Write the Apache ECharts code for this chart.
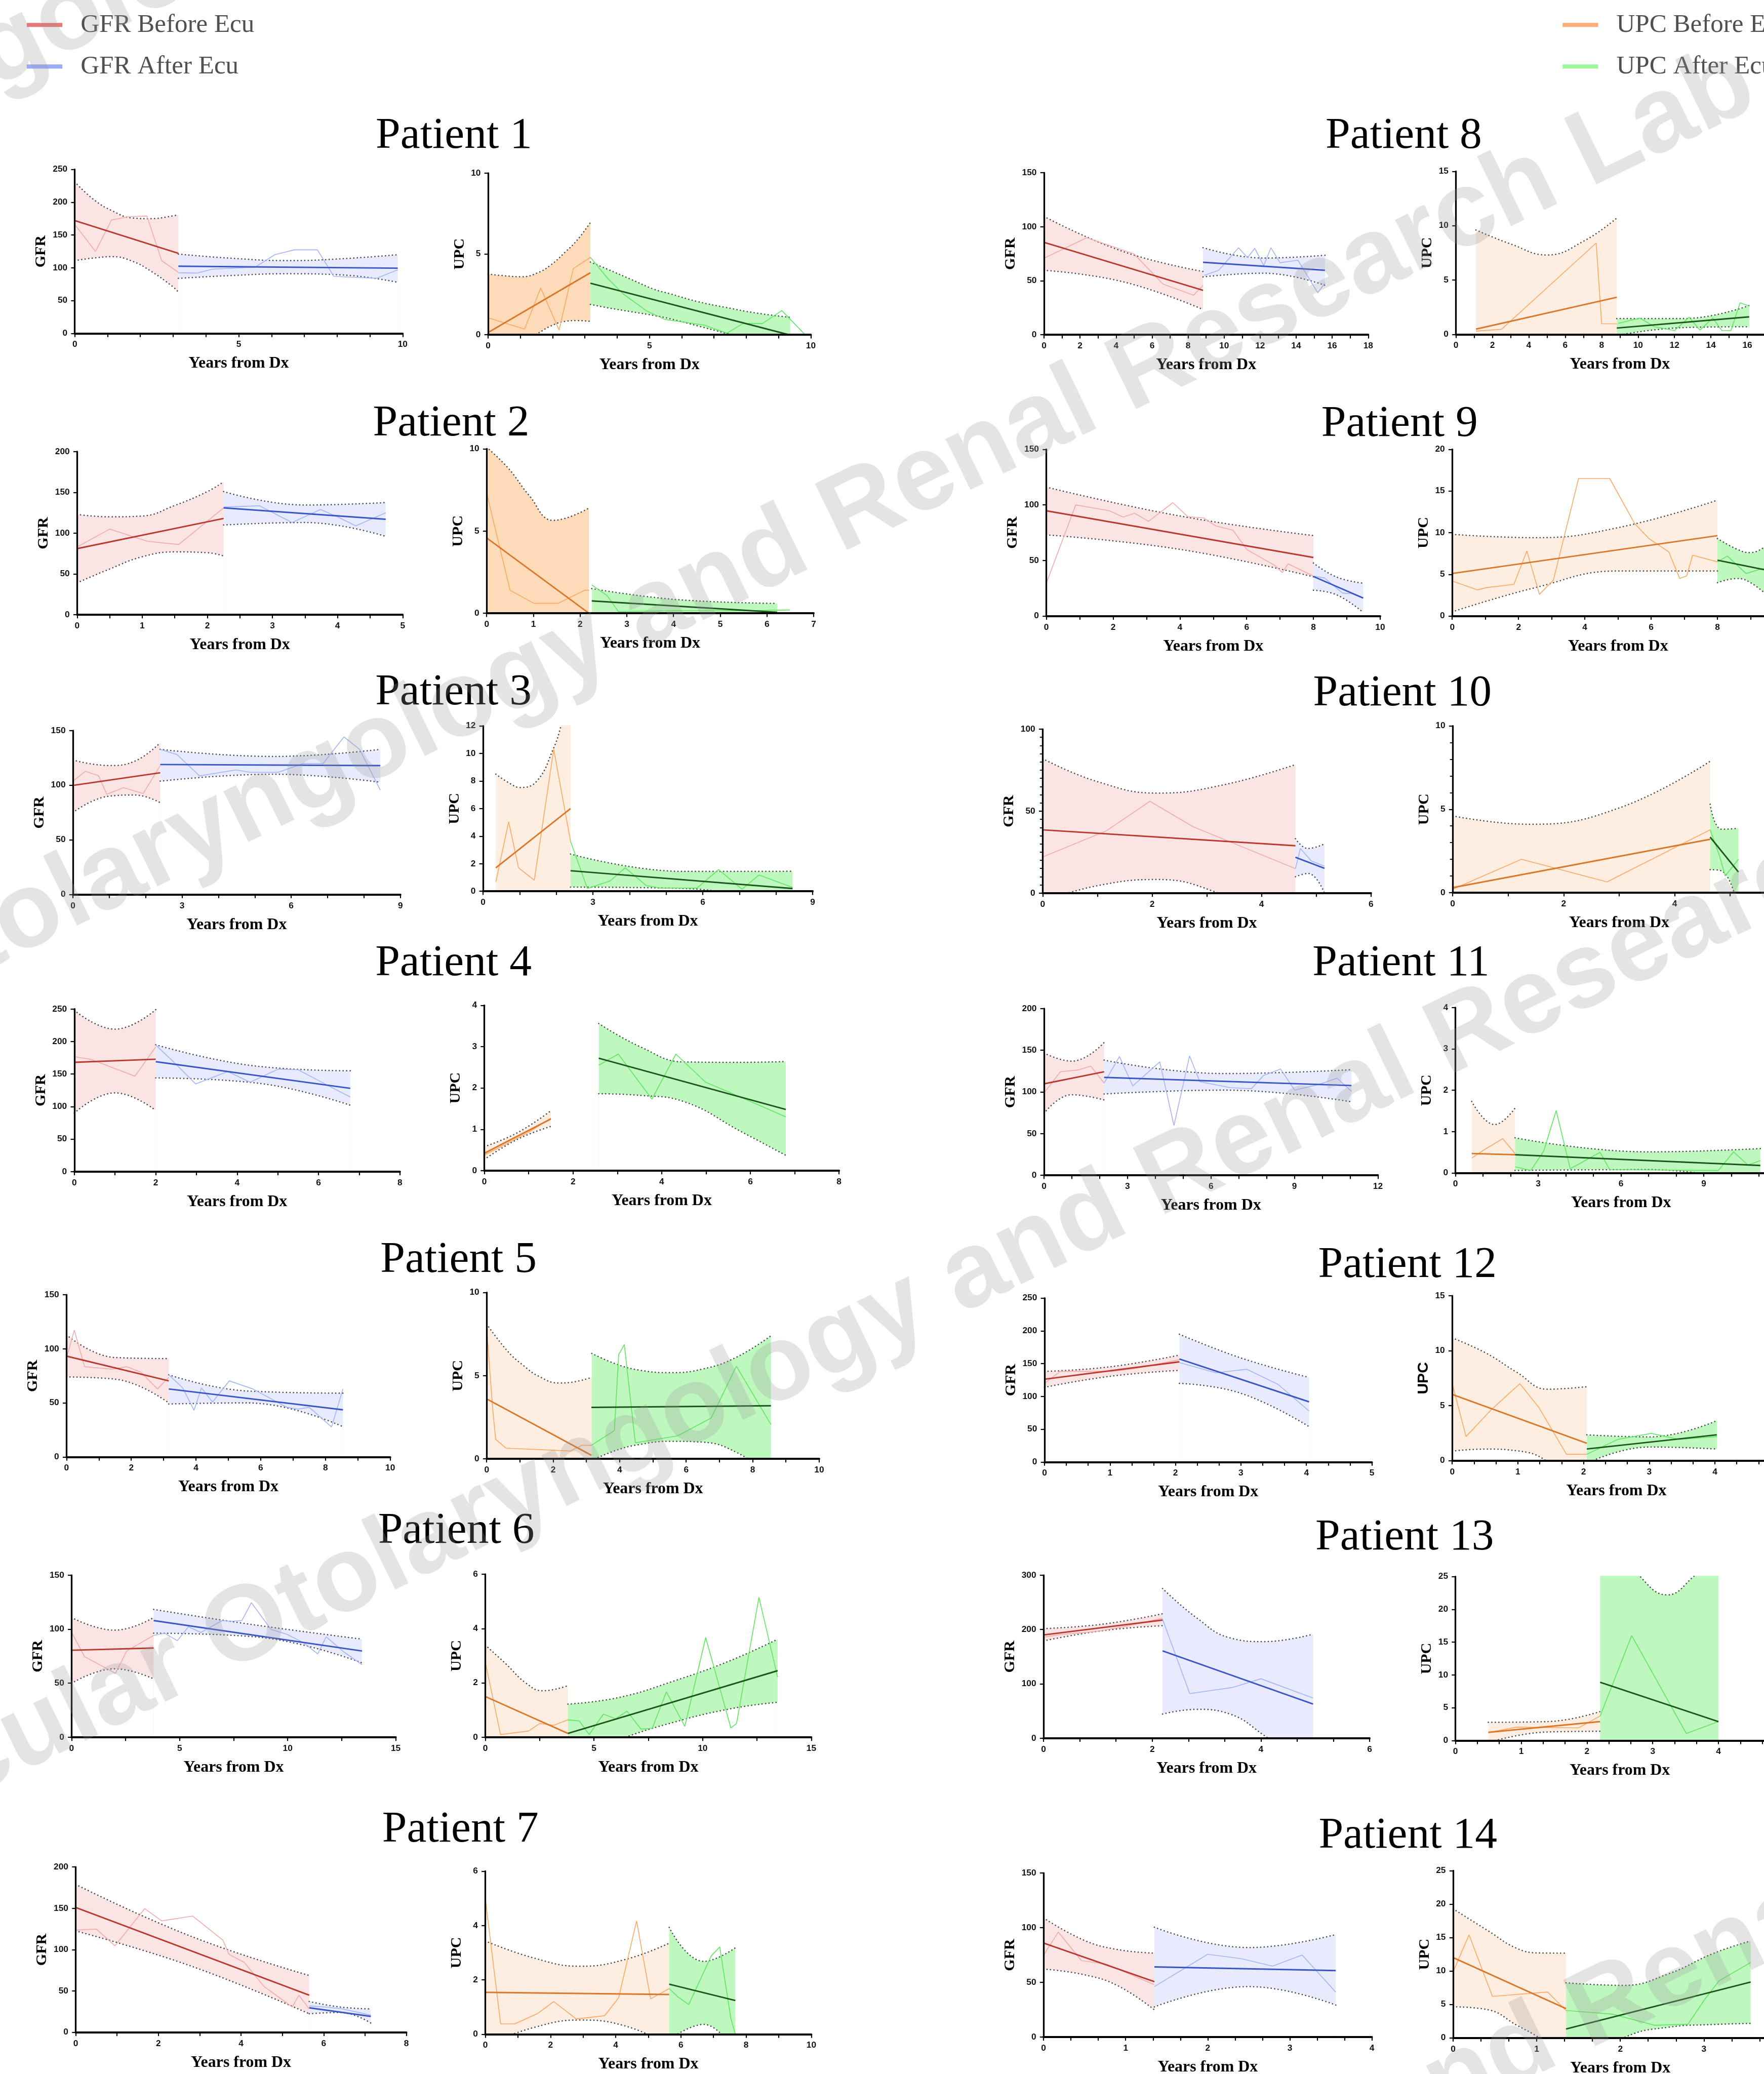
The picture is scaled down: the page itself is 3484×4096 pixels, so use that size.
<!DOCTYPE html>
<html><head><meta charset="utf-8">
<script src="https://cdn.jsdelivr.net/npm/echarts@6/dist/echarts.min.js"></script>
<style>html,body{margin:0;padding:0;background:#fff}#c{width:3484px;height:4096px}</style>
</head><body><div id="c"></div>
<script>
// ---------- DATA (x = years from Dx) ----------
// band rows are [x, lower, upper]
const gfr1PreRaw=[[0,166],[0.63,125],[1.12,173],[1.64,178],[2.2,179],[2.65,111],[3.16,93]];
const gfr1PreFit=[[0,172],[3.16,122]];
const gfr1PreBand=[[0,111,231],[0.58,115,204],[1.14,117,187],[1.76,110,176],[2.32,95,175],[2.97,72,179],[3.16,63,181]];
const gfr1PostRaw=[[3.16,92.5],[3.73,92],[4.2,98],[5.5,101],[6.1,120],[6.7,127.5],[7.4,127.5],[7.9,87],[9.2,84],[9.85,97]];
const gfr1PostFit=[[3.16,102.5],[9.85,99.5]];
const gfr1PostBand=[[3.16,84,121],[4.67,88,115],[6.5,91,111],[8.2,89,114],[9.85,78,120]];
const upc1PreRaw=[[0,1.05],[1.13,0.35],[1.63,2.9],[2.2,0.29],[2.64,4.1],[3.17,4.79]];
const upc1PreFit=[[0,0.14],[3.17,3.84]];
const upc1PreBand=[[0,-1.8,3.76],[0.52,-1.1,3.65],[1.04,-0.45,3.59],[1.55,0.1,3.85],[1.95,0.55,4.33],[2.38,0.83,5.1],[2.76,0.88,5.86],[3.17,0.83,6.95]];
const upc1PostRaw=[[3.17,4.79],[3.71,3.48],[4.19,2.52],[4.91,1.48],[5.48,0.95],[6.7,0.6],[7.4,0.1],[7.9,0.7],[8.5,0.7],[9.1,1.5],[9.8,0.05]];
const upc1PostFit=[[3.17,3.19],[9.27,0.03]];
const upc1PostBand=[[3.17,1.88,4.5],[3.71,1.67,4.05],[4.43,1.43,3.43],[5.15,1.19,2.81],[5.62,1.0,2.55],[6.5,0.55,2.05],[7.35,0.1,1.7],[8.3,-0.4,1.35],[9.36,-1.0,1.08]];

const gfr2PreRaw=[[0,83],[0.5,105],[1.08,90],[1.56,86],[2.25,131]];
const gfr2PreFit=[[0,81],[2.25,118]];
const gfr2PreBand=[[0,39,123],[0.5,56,120],[1.0,71,121],[1.5,77,134],[2.0,76,151],[2.25,72,163]];
const gfr2PostRaw=[[2.25,132],[2.8,133.6],[3.3,113],[3.74,129],[4.0,120],[4.28,109],[4.74,125]];
const gfr2PostFit=[[2.25,131],[4.74,117]];
const gfr2PostBand=[[2.25,110,151],[3.5,113,134.5],[4.74,96,137.5]];
const upc2PreRaw=[[0,7.3],[0.5,1.4],[1.01,0.6],[1.52,0.6],[2.1,1.4],[2.19,1.4]];
const upc2PreFit=[[0,4.58],[2.19,0]];
const upc2PreBand=[[0,-0.9,10.1],[0.47,-1.2,8.8],[0.9,-1.6,7.2],[1.43,-2.4,5.65],[2.19,-6.4,6.4]];
const upc2PostRaw=[[2.25,1.72],[2.58,1.07],[2.82,0.1],[4.0,0.15],[5.5,0.15],[6.49,0.2]];
const upc2PostFit=[[2.25,0.75],[6.22,0.06]];
const upc2PostBand=[[2.25,0,1.5],[4.0,0.03,0.85],[6.22,-0.48,0.6]];

const gfr3PreRaw=[[0,103.7],[0.34,112.7],[0.7,108.8],[0.93,91.7],[1.39,97.8],[1.93,92.3],[2.4,118]];
const gfr3PreFit=[[0,99.8],[2.4,111.4]];
const gfr3PreBand=[[0,75,123],[1.0,90,118],[1.7,91,122],[2.4,84,139]];
const gfr3PostRaw=[[2.4,132.8],[2.86,128],[3.48,108.5],[4.48,114],[4.87,111.8],[5.64,111.8],[6.34,119.9],[6.88,119.9],[7.45,144.2],[7.88,132.8],[8.45,95.5]];
const gfr3PostFit=[[2.4,118.9],[8.45,117.9]];
const gfr3PostBand=[[2.4,103.7,132.8],[5.5,110,126.3],[8.45,102.7,132.8]];
const upc3PreRaw=[[0.35,0.67],[0.7,5.04],[0.97,1.7],[1.4,0.8],[1.93,10.3],[2.39,3.62]];
const upc3PreFit=[[0.35,1.7],[2.39,6.0]];
const upc3PreBand=[[0.35,-5.1,8.5],[0.75,-2.5,7.8],[1.01,-1.1,7.53],[1.47,-1.2,8.0],[1.93,-1.5,10.4],[2.13,-2.0,12.0],[2.39,-2.5,14.5]];
const upc3PostRaw=[[2.39,3.62],[2.85,0.2],[3.47,0.75],[3.88,1.7],[4.46,0.41],[4.85,0.23],[5.84,0.23],[6.43,1.57],[7.07,0.15],[7.53,1.18],[8.45,0.28]];
const upc3PostFit=[[2.39,1.49],[8.45,0.2]];
const upc3PostBand=[[2.39,0.3,2.7],[5.5,0.2,1.44],[8.45,-1.05,1.45]];

const gfr4PreRaw=[[0,176.6],[0.39,172.8],[1.49,146.7],[2.0,191.8]];
const gfr4PreFit=[[0,168],[2.0,172.8]];
const gfr4PreBand=[[0,90,248],[1.0,121,219],[2.0,94,249]];
const gfr4PostRaw=[[2.0,194.6],[2.46,167.4],[2.98,134.8],[3.77,153.8],[4.32,137.5],[5.01,157.6],[5.5,156.5],[6.16,134.8],[6.78,114.7]];
const gfr4PostFit=[[2.0,169],[6.78,128]];
const gfr4PostBand=[[2.0,144,195],[4.5,136,162],[6.78,102,155]];
const upc4PreRaw=[[0,0.38],[0.45,0.62],[1.0,0.93],[1.5,1.27]];
const upc4PreFit=[[0,0.42],[1.5,1.25]];
const upc4PreBand=[[0,0.27,0.58],[0.75,0.76,0.92],[1.5,1.07,1.45]];
const upc4PostRaw=[[2.58,2.55],[3.02,2.82],[3.78,1.73],[4.32,2.82],[4.99,2.14],[5.56,1.88],[6.8,1.3]];
const upc4PostFit=[[2.58,2.72],[6.8,1.48]];
const upc4PostBand=[[2.58,1.86,3.56],[3.53,1.82,2.99],[4.5,1.67,2.63],[5.8,0.94,2.62],[6.8,0.37,2.64]];

const gfr5PreRaw=[[0,91.7],[0.24,117.3],[0.56,83.5],[1.42,81.2],[1.86,83.5],[2.29,78.6],[2.81,62.9],[3.16,73.7]];
const gfr5PreFit=[[0,93.3],[3.16,70.4]];
const gfr5PreBand=[[0,74,113],[1.5,72,92],[3.16,50,91]];
const gfr5PostRaw=[[3.16,76],[3.59,63.9],[3.94,43.2],[4.17,63.9],[4.51,50.8],[5.03,70.4],[5.76,62.9],[6.81,45.9],[7.15,44.2],[7.5,45.9],[8.19,27.8],[8.54,62.9]];
const gfr5PostFit=[[3.16,62.9],[8.54,43.6]];
const gfr5PostBand=[[3.16,49,76],[5.6,50,61],[8.54,28,59]];
const upc5PreRaw=[[0,7.8],[0.18,3.0],[0.27,1.17],[0.58,0.64],[2.52,0.47],[2.86,0.81],[3.15,0.81]];
const upc5PreFit=[[0,3.6],[3.15,0.21]];
const upc5PreBand=[[0,-0.9,8.1],[0.64,-1.5,6.45],[1.1,-2.0,5.62],[1.56,-2.6,4.97],[2.17,-3.4,4.56],[2.54,-3.9,4.6],[3.16,-4.5,4.9]];
const upc5PostRaw=[[3.15,0.81],[3.84,1.7],[3.97,6.27],[4.14,6.87],[4.47,0.96],[5.74,1.38],[6.75,2.45],[7.51,5.57],[8.55,2.06]];
const upc5PostFit=[[3.15,3.09],[8.55,3.19]];
const upc5PostBand=[[3.16,-0.1,6.34],[3.88,0.5,5.71],[4.57,0.85,5.34],[5.5,1.05,5.18],[6.5,1.0,5.4],[7.5,0.4,6.1],[8.55,-1.0,7.4]];

const gfr6PreRaw=[[0,97],[0.6,74.6],[2.03,59.2],[2.55,79.8],[3.8,94.3]];
const gfr6PreFit=[[0,80.5],[3.8,82.6]];
const gfr6PreBand=[[0,49.9,110.8],[2.0,63.3,99.1],[3.8,54,110.8]];
const gfr6PostRaw=[[3.8,94.3],[4.31,96.3],[4.89,89.4],[5.41,102.2],[5.98,97],[6.97,108],[7.36,107.3],[7.88,108],[8.32,124.5],[9.23,99.8],[9.96,95.3],[10.74,87.4],[11.39,77.1],[11.78,92.9],[12.61,78.8],[13.44,67.1]];
const gfr6PostFit=[[3.8,108],[13.44,79.8]];
const gfr6PostBand=[[3.8,96.3,118.3],[8.5,92.9,103.9],[13.44,68.8,90.8]];
const upc6PreRaw=[[0,2.76],[0.7,0.1],[1.99,0.23],[2.51,0.51],[3.15,0.44],[3.8,0.64]];
const upc6PreFit=[[0,1.5],[3.8,0.14]];
const upc6PreBand=[[0,-0.4,3.39],[0.96,-0.8,2.69],[1.86,-1.1,2.0],[2.64,-1.1,1.71],[3.8,-1.6,1.9]];
const upc6PostRaw=[[3.8,0.64],[4.32,0.6],[4.78,0.1],[5.43,0.85],[6.0,0.68],[6.52,0.96],[7.16,0.3],[7.68,0.33],[8.33,1.67],[9.18,0.4],[10.14,3.67],[11.3,0.34],[11.56,0.51],[12.59,5.15],[13.45,2.21]];
const upc6PostFit=[[3.8,0.14],[13.45,2.45]];
const upc6PostBand=[[3.8,-0.94,1.22],[6.13,-0.1,1.46],[8.71,0.56,2.08],[11.3,1.05,2.83],[13.45,1.29,3.61]];

const gfr7PreRaw=[[0,123.6],[0.5,124.9],[0.95,104.7],[1.67,149.7],[2.08,134.8],[2.83,140.7],[3.56,111.5],[3.71,94.4],[4.08,84.5],[4.56,55.3],[5.24,30.6],[5.4,44.9],[5.65,28.3]];
const gfr7PreFit=[[0,151],[5.65,44.9]];
const gfr7PreBand=[[0,122.7,178.9],[2.8,80,116],[5.65,22.5,68.8]];
const gfr7PostRaw=[[5.65,31.9],[6.05,30.6],[6.46,28.3],[7.14,20.7]];
const gfr7PostFit=[[5.65,29.7],[7.14,19.3]];
const gfr7PostBand=[[5.65,22.5,37.3],[6.4,24,30.6],[7.14,11.2,28.3]];
const upc7PreRaw=[[0,4.99],[0.47,0.38],[0.9,0.38],[1.59,0.75],[2.1,1.2],[2.79,0.56],[3.66,0.68],[4.09,1.34],[4.64,4.17],[5.07,1.3],[5.64,1.68]];
const upc7PreFit=[[0,1.54],[5.64,1.46]];
const upc7PreBand=[[0,-0.4,3.43],[1.5,0.25,2.8],[2.9,0.52,2.5],[4.3,0.3,2.75],[5.64,-0.4,3.35]];
const upc7PostRaw=[[5.64,1.68],[5.9,1.38],[6.24,1.09],[6.93,2.88],[7.19,3.21],[7.53,0.59],[7.67,0]];
const upc7PostFit=[[5.64,1.84],[7.67,1.24]];
const upc7PostBand=[[5.64,-0.2,3.93],[6.7,0.36,2.68],[7.67,-0.7,3.18]];

const gfr8PreRaw=[[0,70.8],[2.37,89.8],[5.0,74.8],[6.6,47],[8.3,36.6],[8.83,45.8]];
const gfr8PreFit=[[0,85.6],[8.83,41.2]];
const gfr8PreBand=[[0,59.7,109.5],[4.4,49,77],[8.83,23.4,58.6]];
const gfr8PostRaw=[[8.9,55],[9.7,59.7],[10.8,80.6],[11.3,71.3],[11.7,80],[12.2,64],[12.6,80.6],[13.1,66.7],[14.1,69],[15.2,38.9],[15.6,48]];
const gfr8PostFit=[[8.83,67.1],[15.6,59.7]];
const gfr8PostBand=[[8.83,53.6,80.6],[12.2,57,71],[15.6,45.8,73.6]];
const upc8PreRaw=[[1.1,0.3],[2.5,0.46],[7.7,8.4],[8.0,0.97],[8.83,0.97]];
const upc8PreFit=[[1.1,0.48],[8.83,3.41]];
const upc8PreBand=[[1.1,-8.6,9.6],[3.03,-5.0,8.3],[5.0,-3.4,7.3],[7.04,-3.8,8.6],[8.83,-3.9,10.7]];
const upc8PostRaw=[[8.9,1.0],[10.1,1.5],[10.9,0.7],[12.0,0.35],[12.8,1.57],[13.4,0.39],[14.1,1.5],[14.6,0.35],[15.1,0.35],[15.6,2.9],[16.1,2.6]];
const upc8PostFit=[[8.83,0.58],[16.1,1.61]];
const upc8PostBand=[[8.83,-0.1,1.45],[12.5,0.62,1.45],[16.1,0.7,2.65]];

const gfr9PreRaw=[[0,29.6],[0.88,100],[1.89,94.7],[2.3,89],[2.64,92.5],[3.06,85.2],[3.79,102],[4.24,89.3],[4.71,88.3],[5.08,81],[5.59,77.2],[6.01,59.7],[6.85,45.4],[7.07,39.1],[7.24,47],[8.0,35.9]];
const gfr9PreFit=[[0,94.7],[8,52.7]];
const gfr9PreBand=[[0,73,116],[4,60,90],[8,35.3,72.4]];
const gfr9PostRaw=[[8,35.9],[8.33,34.3],[8.87,20.7],[9.17,20],[9.49,16.2]];
const gfr9PostFit=[[8,35.6],[9.49,16.2]];
const gfr9PostBand=[[8,23.2,47.7],[8.7,19,35],[9.49,3.2,29.6]];
const upc9PreRaw=[[0,4.2],[0.76,3.14],[1.02,3.4],[1.86,3.8],[2.25,7.8],[2.63,2.6],[3.05,4.3],[3.81,16.5],[4.75,16.5],[5.5,11.1],[5.93,9.3],[6.53,7.7],[6.86,4.5],[7.07,4.8],[7.25,7.3],[8.0,6.5]];
const upc9PreFit=[[0,5.1],[8,9.64]];
const upc9PreBand=[[0,0.5,9.8],[2.5,3.4,9.4],[5,5.4,10.6],[8,5.4,13.9]];
const upc9PostRaw=[[8,6.5],[8.3,7.2],[8.86,5.1],[9.37,5.7],[9.49,5.6]];
const upc9PostFit=[[8,6.7],[9.49,5.5]];
const upc9PostBand=[[8,4.0,9.3],[8.6,4.5,8.0],[9.0,4.0,7.6],[9.49,2.5,8.5]];

const gfr10PreRaw=[[0,22],[1.16,37.9],[1.96,56],[2.75,40.5],[4.62,14.9]];
const gfr10PreFit=[[0,38.6],[4.62,28.9]];
const gfr10PreBand=[[0,-5,82],[1.0,4.5,68],[2.1,8.3,61],[3.3,-1,66],[4.62,-20,78.4]];
const gfr10PostRaw=[[4.62,14.9],[4.71,27.2],[4.91,19.6],[5.15,16.4]];
const gfr10PostFit=[[4.62,21.8],[5.15,15.1]];
const gfr10PostBand=[[4.62,10,33.2],[4.85,12,27.2],[5.15,0,30]];
const upc10PreRaw=[[0,0.2],[1.24,2.0],[2.78,0.64],[4.64,3.77]];
const upc10PreFit=[[0,0.3],[4.64,3.2]];
const upc10PreBand=[[0,-4,4.6],[1.4,-1.7,4.1],[3.0,-0.8,5.08],[4.64,-1.5,7.88]];
const upc10PostRaw=[[4.64,3.77],[4.81,2.2],[4.91,1.0],[5.15,2.0]];
const upc10PostFit=[[4.64,3.33],[5.15,1.23]];
const upc10PostBand=[[4.64,1.38,5.3],[4.85,1.3,3.8],[5.15,-1.0,3.86]];

const gfr11PreRaw=[[0,98.7],[0.59,124.2],[1.23,126.3],[1.68,130.9],[2.16,110.6]];
const gfr11PreFit=[[0,109.7],[2.16,124.2]];
const gfr11PreBand=[[0,74.2,146.6],[1.0,96.6,136.9],[2.16,90.3,159.3]];
const gfr11PostRaw=[[2.16,110.6],[2.71,142.4],[3.19,107.2],[4.16,136],[4.67,59.7],[5.23,143.2],[5.6,112.3],[6.69,105.1],[7.45,103.8],[7.9,119.9],[8.5,127.5],[9.01,102.1],[9.92,109.3],[10.53,116.5],[11.05,100.8]];
const gfr11PostFit=[[2.16,117.4],[11.05,107.6]];
const gfr11PostBand=[[2.16,97.5,138.1],[6.5,102.1,122],[11.05,88.1,126.7]];
const upc11PreRaw=[[0.59,0.36],[1.04,0.56],[1.71,0.83],[2.16,0.47]];
const upc11PreFit=[[0.59,0.47],[2.16,0.44]];
const upc11PreBand=[[0.59,-0.79,1.73],[1.42,-0.27,1.17],[2.16,-0.68,1.57]];
const upc11PostRaw=[[2.16,0.15],[2.73,0.06],[3.2,0.53],[3.65,1.51],[4.16,0.1],[5.24,0.5],[5.59,0.08],[9.53,0.06],[10.08,0.51],[10.6,0.19],[11.05,0.3]];
const upc11PostFit=[[2.16,0.44],[11.05,0.18]];
const upc11PostBand=[[2.16,0.06,0.85],[7,0.08,0.51],[11.05,-0.25,0.59]];

const gfr12PreRaw=[[0,119.9],[0.24,138.2],[1.03,138.2],[1.37,142.5],[2.06,156]];
const gfr12PreFit=[[0,126.3],[2.06,152.8]];
const gfr12PreBand=[[0,113.9,138.2],[1.0,130.7,145.2],[2.06,139.8,163]];
const gfr12PostRaw=[[2.06,151.7],[2.62,136],[3.09,141.5],[3.57,118.2],[4.04,77.8]];
const gfr12PostFit=[[2.06,157.1],[4.04,91.8]];
const gfr12PostBand=[[2.06,119.9,194.9],[3.0,104.8,158.7],[4.04,54,129]];
const upc12PreRaw=[[0,7.0],[0.21,2.19],[0.6,4.67],[1.03,7.0],[1.32,4.83],[1.74,0.58],[2.05,0.58]];
const upc12PreFit=[[0,6.02],[2.05,1.58]];
const upc12PreBand=[[0,0.87,11.17],[0.51,1.05,9.8],[0.98,0.9,8.05],[1.45,-0.1,6.5],[2.05,-3.6,6.73]];
const upc12PostRaw=[[2.05,0.58],[2.52,1.93],[3.03,2.48],[3.46,1.93],[4.03,2.19]];
const upc12PostFit=[[2.05,1.06],[4.03,2.35]];
const upc12PostBand=[[2.05,-0.23,2.35],[3.0,1.24,2.16],[4.03,1.06,3.64]];

const gfr13PreRaw=[[0,186],[0.33,191],[0.95,196],[1.47,205],[2.19,220.8]];
const gfr13PreFit=[[0,190],[2.19,217.4]];
const gfr13PreBand=[[0,179,201.6],[1.1,198,210],[2.19,207,229]];
const gfr13PostRaw=[[2.19,218.7],[2.69,82],[3.49,93.6],[4.0,109.4],[4.96,73.8]];
const gfr13PostFit=[[2.19,160.6],[4.96,62.9]];
const gfr13PostBand=[[2.19,44.4,275.5],[2.81,53,222],[3.43,44.4,184.6],[4.06,5,177.7],[4.96,-60,191.4]];
const upc13PreRaw=[[0.5,1.19],[0.93,2.04],[1.87,1.92],[2.2,3.73]];
const upc13PreFit=[[0.5,1.24],[2.2,2.88]];
const upc13PreBand=[[0.5,-0.3,2.77],[1.4,1.3,2.88],[2.2,1.4,4.41]];
const upc13PostRaw=[[2.2,3.73],[2.68,16],[3.51,1.07],[4.0,2.88]];
const upc13PostFit=[[2.2,8.88],[4.0,2.88]];
const upc13PostBand=[[2.2,-15,33],[2.81,-8,25],[3.22,-5,22.2],[3.62,-8,25],[4.0,-20,29]];

const gfr14PreRaw=[[0,75],[0.18,96],[0.46,69.9],[0.77,66.5],[1.35,47.8]];
const gfr14PreFit=[[0,85.9],[1.35,50.6]];
const gfr14PreBand=[[0,62.1,108.9],[0.49,57,88.6],[0.9,47,80],[1.35,24.8,76.7]];
const gfr14PostRaw=[[1.35,46.1],[2.0,75.7],[2.41,71.6],[2.79,64.8],[3.15,75],[3.56,41]];
const gfr14PostFit=[[1.35,64.1],[3.56,60.7]];
const gfr14PostBand=[[1.35,27.5,100.4],[2.5,46.1,81.8],[3.56,29.2,93.7]];
const upc14PreRaw=[[0,9.9],[0.19,15.4],[0.47,6.2],[1.13,6.86],[1.35,4.1]];
const upc14PreFit=[[0,12.0],[1.35,4.37]];
const upc14PreBand=[[0,4.65,19.3],[0.42,4.2,16],[0.76,1.9,13.4],[1.03,0,12.7],[1.35,-3,12.67]];
const upc14PostRaw=[[1.35,4.1],[1.91,3.54],[2.41,1.88],[2.81,2.05],[3.01,5.75],[3.18,8.52],[3.56,11.28]];
const upc14PostFit=[[1.35,1.33],[3.56,8.35]];
const upc14PostBand=[[1.35,-5.6,8.24],[2.04,0,7.85],[2.58,1.6,9.6],[3.12,2.0,12.67],[3.56,2.16,14.5]];

// axis ticks per patient (index 0 = Patient 1)
const gfrYMax=[250,200,150,250,150,150,200,150,150,100,200,250,300,150];
const gfrYStep=[50,50,50,50,50,50,50,50,50,50,50,50,100,50];
const gfrYMinor=[0,0,0,0,0,0,0,0,0,10,0,0,0,0];
const gfrXMax=[10,5,9,8,10,15,8,18,10,6,12,5,6,4];
const gfrXStep=[5,1,3,2,2,5,2,2,2,2,3,1,2,1];
const gfrXMinor=[5,2,3,2,2,2,2,2,2,2,3,3,3,3];
const upcYMax=[10,10,12,4,10,6,6,15,20,10,4,15,25,25];
const upcYStep=[5,5,2,1,5,2,2,5,5,5,1,5,5,5];
const upcYMinor=[0,0,0,0,0,0,0,0,0,5,0,0,0,0];
const upcXMax=[10,7,9,8,10,15,10,18,10,6,12,5,5,4];
const upcXStep=[5,1,3,2,2,5,2,2,2,2,3,1,1,1];
const upcXMinor=[5,0,3,2,2,2,2,2,2,2,3,3,3,3];
const legendLeft=['GFR Before Ecu','GFR After Ecu'];
const legendRight=['UPC Before Ecu','UPC After Ecu'];
const watermarkText='Molecular Otolaryngology and Renal Research Lab';

// ---------- tables built from the arrays ----------
const GFR=[
 [gfr1PreRaw,gfr1PreFit,gfr1PreBand,gfr1PostRaw,gfr1PostFit,gfr1PostBand],
 [gfr2PreRaw,gfr2PreFit,gfr2PreBand,gfr2PostRaw,gfr2PostFit,gfr2PostBand],
 [gfr3PreRaw,gfr3PreFit,gfr3PreBand,gfr3PostRaw,gfr3PostFit,gfr3PostBand],
 [gfr4PreRaw,gfr4PreFit,gfr4PreBand,gfr4PostRaw,gfr4PostFit,gfr4PostBand],
 [gfr5PreRaw,gfr5PreFit,gfr5PreBand,gfr5PostRaw,gfr5PostFit,gfr5PostBand],
 [gfr6PreRaw,gfr6PreFit,gfr6PreBand,gfr6PostRaw,gfr6PostFit,gfr6PostBand],
 [gfr7PreRaw,gfr7PreFit,gfr7PreBand,gfr7PostRaw,gfr7PostFit,gfr7PostBand],
 [gfr8PreRaw,gfr8PreFit,gfr8PreBand,gfr8PostRaw,gfr8PostFit,gfr8PostBand],
 [gfr9PreRaw,gfr9PreFit,gfr9PreBand,gfr9PostRaw,gfr9PostFit,gfr9PostBand],
 [gfr10PreRaw,gfr10PreFit,gfr10PreBand,gfr10PostRaw,gfr10PostFit,gfr10PostBand],
 [gfr11PreRaw,gfr11PreFit,gfr11PreBand,gfr11PostRaw,gfr11PostFit,gfr11PostBand],
 [gfr12PreRaw,gfr12PreFit,gfr12PreBand,gfr12PostRaw,gfr12PostFit,gfr12PostBand],
 [gfr13PreRaw,gfr13PreFit,gfr13PreBand,gfr13PostRaw,gfr13PostFit,gfr13PostBand],
 [gfr14PreRaw,gfr14PreFit,gfr14PreBand,gfr14PostRaw,gfr14PostFit,gfr14PostBand]];
const UPC=[
 [upc1PreRaw,upc1PreFit,upc1PreBand,upc1PostRaw,upc1PostFit,upc1PostBand],
 [upc2PreRaw,upc2PreFit,upc2PreBand,upc2PostRaw,upc2PostFit,upc2PostBand],
 [upc3PreRaw,upc3PreFit,upc3PreBand,upc3PostRaw,upc3PostFit,upc3PostBand],
 [upc4PreRaw,upc4PreFit,upc4PreBand,upc4PostRaw,upc4PostFit,upc4PostBand],
 [upc5PreRaw,upc5PreFit,upc5PreBand,upc5PostRaw,upc5PostFit,upc5PostBand],
 [upc6PreRaw,upc6PreFit,upc6PreBand,upc6PostRaw,upc6PostFit,upc6PostBand],
 [upc7PreRaw,upc7PreFit,upc7PreBand,upc7PostRaw,upc7PostFit,upc7PostBand],
 [upc8PreRaw,upc8PreFit,upc8PreBand,upc8PostRaw,upc8PostFit,upc8PostBand],
 [upc9PreRaw,upc9PreFit,upc9PreBand,upc9PostRaw,upc9PostFit,upc9PostBand],
 [upc10PreRaw,upc10PreFit,upc10PreBand,upc10PostRaw,upc10PostFit,upc10PostBand],
 [upc11PreRaw,upc11PreFit,upc11PreBand,upc11PostRaw,upc11PostFit,upc11PostBand],
 [upc12PreRaw,upc12PreFit,upc12PreBand,upc12PostRaw,upc12PostFit,upc12PostBand],
 [upc13PreRaw,upc13PreFit,upc13PreBand,upc13PostRaw,upc13PostFit,upc13PostBand],
 [upc14PreRaw,upc14PreFit,upc14PreBand,upc14PostRaw,upc14PostFit,upc14PostBand]];

// ---------- layout (reference pixels), scaled by S ----------
const S=0.912;
const gfrBox=[[162,872,367,722],[167,872,978,1331],[158,867,1582,1937],[161,866,2185,2537],[144,845,2804,3155],[155,857,3411,3762],[164,880,4043,4401],
 [2261,2963,374,725],[2266,2989,973,1334],[2258,2969,1579,1934],[2261,2984,2184,2545],[2262,2971,2811,3166],[2260,2966,3411,3764],[2260,2971,4056,4411]];
const upcBox=[[1057,1756,375,725],[1054,1762,972,1328],[1046,1760,1572,1930],[1049,1817,2177,2535],[1054,1774,2799,3159],[1051,1757,3409,3762],[1051,1757,4052,4405],
 [3153,3863,371,724],[3145,3863,973,1334],[3146,3867,1572,1933],[3152,3869,2182,2540],[3145,3856,2806,3163],[3152,3864,3414,3769],[3147,3871,4051,4413]];
const titlePos=[[983,295],[977,918],[982,1500],[982,2087],[993,2729],[988,3316],[997,3963],[3040,295],[3031,919],[3037,1502],[3034,2087],[3048,2740],[3042,3330],[3049,3976]];

const SERIF='"Liberation Serif","Times New Roman",serif';
const SANS='"Liberation Sans",Arial,Helvetica,sans-serif';
const COL={
 gPre:{fill:'#fbe4e4',raw:'#f5a9a9',fit:'#b83a2f'},
 gPost:{fill:'#e7ebfd',raw:'#a3b3fb',fit:'#3a55c6'},
 uPre:{fill:'#feeee1',raw:'#fca762',fit:'#d9772a'},
 uPost:{fill:'#bef8be',raw:'#5ee65e',fit:'#1d551d'}
};
const deepOrange=[0,1]; // patients whose pre-Ecu UPC band is a deeper orange
const DOT={color:'#4a4a4a',width:3*S,type:[0.1,7.5*S],cap:'round'};

const grids=[],xAxes=[],yAxes=[],series=[],titles=[];
function addPanel(box,xMax,xStep,xMinor,yMax,yStep,yMinor,yName,nameGap,nameFont,data,cPre,cPost,preFill){
  const gi=grids.length;
  grids.push({left:box[0]*S,top:box[2]*S,width:(box[1]-box[0])*S,height:(box[3]-box[2])*S,containLabel:false,outerBoundsMode:'none'});
  const tick={show:true,length:8*S,lineStyle:{color:'#000',width:2.4*S}};
  xAxes.push({type:'value',gridIndex:gi,min:0,max:xMax,interval:xStep,z:10,
    name:'Years from Dx',nameLocation:'middle',nameGap:48*S,
    nameTextStyle:{fontFamily:SERIF,fontWeight:'bold',fontSize:35*S,color:'#000'},
    axisLine:{show:true,onZero:false,lineStyle:{color:'#000',width:4.5*S}},
    axisTick:tick,
    minorTick:{show:xMinor>0,splitNumber:xMinor||1,length:8*S,lineStyle:{color:'#000',width:2.4*S}},
    axisLabel:{fontFamily:SANS,fontWeight:'bold',fontSize:19*S,color:'#111',margin:15*S},
    splitLine:{show:false},minorSplitLine:{show:false}});
  yAxes.push({type:'value',gridIndex:gi,min:0,max:yMax,interval:yStep,z:10,
    name:yName,nameLocation:'middle',nameRotate:90,nameGap:nameGap*S,
    nameTextStyle:{fontFamily:nameFont,fontWeight:'bold',fontSize:33*S,color:'#000'},
    axisLine:{show:true,onZero:false,lineStyle:{color:'#000',width:3.6*S}},
    axisTick:tick,
    minorTick:{show:yMinor>0,splitNumber:yMinor||1,length:6*S,lineStyle:{color:'#000',width:2*S}},
    axisLabel:{fontFamily:SANS,fontWeight:'bold',fontSize:19*S,color:'#111',margin:16*S},
    splitLine:{show:false},minorSplitLine:{show:false}});
  const base={type:'line',xAxisIndex:gi,yAxisIndex:gi,symbol:'none',silent:true,animation:false};
  // confidence band: fill under the upper bound, then mask under the lower bound
  function band(b,fill){
    const lo=b.map(r=>[r[0],r[1]]), hi=b.map(r=>[r[0],r[2]]);
    series.push({...base,data:hi,smooth:0.45,lineStyle:DOT,areaStyle:{color:fill,opacity:1,origin:'auto'},z:1});
    series.push({...base,data:lo,smooth:0.45,lineStyle:DOT,areaStyle:{color:'#ffffff',opacity:1,origin:'auto'},z:1});
  }
  band(data[2],preFill);
  band(data[5],cPost.fill);
  series.push({...base,data:data[0],lineStyle:{color:cPre.raw,width:1.8*S},z:4});
  series.push({...base,data:data[3],lineStyle:{color:cPost.raw,width:1.8*S},z:4});
  series.push({...base,name:cPre.name,data:data[1],lineStyle:{color:cPre.fit,width:3.2*S},z:5});
  series.push({...base,name:cPost.name,data:data[4],lineStyle:{color:cPost.fit,width:3.2*S},z:5});
}
COL.gPre.name=legendLeft[0];COL.gPost.name=legendLeft[1];COL.uPre.name=legendRight[0];COL.uPost.name=legendRight[1];

for(let i=0;i<14;i++){
  addPanel(gfrBox[i],gfrXMax[i],gfrXStep[i],gfrXMinor[i],gfrYMax[i],gfrYStep[i],gfrYMinor[i],'GFR',56,SERIF,GFR[i],COL.gPre,COL.gPost,COL.gPre.fill);
  addPanel(upcBox[i],upcXMax[i],upcXStep[i],upcXMinor[i],upcYMax[i],upcYStep[i],upcYMinor[i],'UPC',45,i===11?SANS:SERIF,UPC[i],COL.uPre,COL.uPost,deepOrange.includes(i)?'#fddab8':COL.uPre.fill);
  titles.push({text:'Patient '+(i+1),left:titlePos[i][0]*S,top:(titlePos[i][1]-48)*S,textAlign:'center',padding:0,
    textStyle:{fontFamily:SERIF,fontWeight:'normal',fontSize:96*S,lineHeight:96*S,color:'#000'}});
}

const legendCommon={orient:'vertical',selectedMode:false,icon:'rect',itemWidth:77*S,itemHeight:9*S,itemGap:34*S,padding:0,
  textStyle:{fontFamily:SERIF,fontSize:56*S,lineHeight:56*S,color:'#505050',padding:[0,0,0,34*S]}};
const legends=[
  {...legendCommon,left:58*S,top:26*S,data:[{name:legendLeft[0],icon:'rect',itemStyle:{color:'#e8787a'}},{name:legendLeft[1],icon:'rect',itemStyle:{color:'#98acf8'}}]},
  {...legendCommon,left:3384*S,top:26*S,data:[{name:legendRight[0],icon:'rect',itemStyle:{color:'#ffab7a'}},{name:legendRight[1],icon:'rect',itemStyle:{color:'#9ef59e'}}]}
];

const rot=26*Math.PI/180;
const wmCenters=[[597,-177],[1260,1400],[1949,2838],[2880,4640]];
const graphics=wmCenters.map(c=>({type:'text',x:c[0]*S,y:c[1]*S,rotation:rot,z:100,silent:true,
  style:{text:watermarkText,fontFamily:SANS,fontWeight:'bold',fontSize:232*S,fill:'rgba(150,150,150,0.26)',textAlign:'center',textVerticalAlign:'middle'}}));

const chart=echarts.init(document.getElementById('c'),null,{renderer:'canvas'});
chart.setOption({animation:false,backgroundColor:'#fff',title:titles,legend:legends,grid:grids,xAxis:xAxes,yAxis:yAxes,series:series,graphic:graphics});
</script></body></html>
